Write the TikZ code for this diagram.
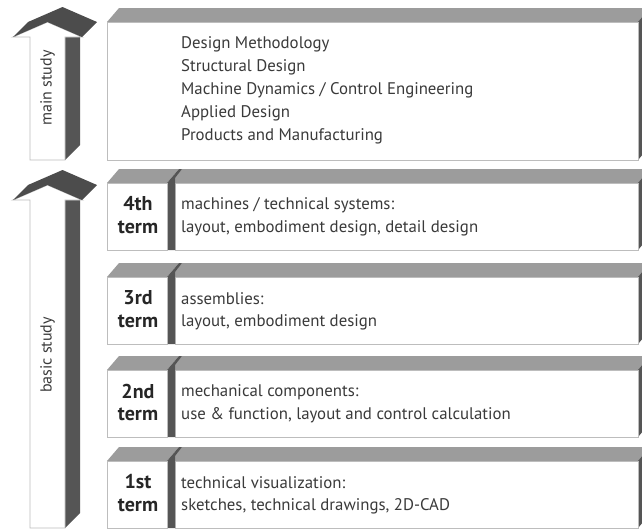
\documentclass[tikz,border=0pt]{standalone}
\usepackage{fontspec}
\setmainfont{PT Sans}
\definecolor{topgray}{HTML}{9C9C9C}
\definecolor{darkside}{HTML}{555555}
\definecolor{roofgray}{HTML}{4C4C4C}
\definecolor{edgegray}{HTML}{BDBDBD}
\definecolor{txtgray}{HTML}{3A3A3A}
\begin{document}
\begin{tikzpicture}[x=1pt,y=-1pt,
  topface/.style={fill=topgray,draw=none},
  sideface/.style={fill=darkside,draw=none},
  roof/.style={fill=roofgray,draw=none},
  frontface/.style={fill=white,draw=edgegray,line width=0.9pt},
  bodytext/.style={anchor=west,inner sep=0pt,text=txtgray,font=\fontsize{16.8}{16.8}\selectfont},
  termtext/.style={anchor=center,inner sep=0pt,text=black!85,font=\fontsize{20}{20}\selectfont\bfseries},
  studytext/.style={anchor=center,inner sep=0pt,text=txtgray,rotate=90,font=\fontsize{16}{16}\selectfont}]
\useasboundingbox (0,0) rectangle (642,528);
\clip (0,0) rectangle (642,528);
\fill[white] (0,0) rectangle (642,528);

% ---------- main study box ----------
\fill[topface] (107,22) -- (119,8) -- (652,8) -- (640,22) -- cycle;
\fill[sideface] (638,22) -- (650,8) -- (650,146) -- (638,160) -- cycle;
\draw[frontface] (107,22) rectangle (638,160);
\node[bodytext] (m1) at (181,44) {Design Methodology};
\node[bodytext] (m2) at (181,67) {Structural Design};
\node[bodytext] (m3) at (181,90) {Machine Dynamics / Control Engineering};
\node[bodytext] (m4) at (181,113) {Applied Design};
\node[bodytext] (m5) at (181,136) {Products and Manufacturing};

% ---------- term boxes ----------
\newcommand\termbox[6]{%
  \fill[topface] (170,#1) -- (182,#1-14) -- (652,#1-14) -- (640,#1) -- cycle;
  \fill[sideface] (638,#1) -- (650,#1-14) -- (650,#1+53) -- (638,#1+67) -- cycle;
  \draw[frontface] (175,#1) rectangle (638,#1+67);
  \fill[topface] (107,#1) -- (119,#1-14) -- (179,#1-14) -- (167,#1) -- cycle;
  \fill[sideface] (167,#1) -- (179,#1-14) -- (182,#1-14) -- (175,#1-5) -- (175,#1+67) -- (167,#1+67) -- cycle;
  \draw[frontface] (107,#1) rectangle (167,#1+67);
  \node[termtext] (#2a) at (138,#1+21) {#3};
  \node[termtext] (#2b) at (138,#1+44) {term};
  \node[bodytext] (#2c) at (181,#1+22) {#4};
  \node[bodytext] (#2d) at (181,#1+45) {#5};
}
\termbox{183}{t4}{4th}{machines / technical systems:}{layout, embodiment design, detail design}{}
\termbox{277}{t3}{3rd}{assemblies:}{layout, embodiment design}{}
\termbox{370}{t2}{2nd}{mechanical components:}{use \& function, layout and control calculation}{}
\termbox{461}{t1}{1st}{technical visualization:}{sketches, technical drawings, 2D-CAD}{}

% ---------- arrows ----------
\newcommand\studyarrow[3]{%
  \begin{scope}[yshift=-#1pt]
    \fill[sideface] (65,37) -- (80,22) -- (80,#2-15) -- (65,#2) -- cycle;
    \draw[frontface] (30,#2) -- (30,37) -- (13,37) -- (47.5,22) -- (82,37) -- (65,37) -- (65,#2) -- cycle;
    \fill[roof] (13,37) -- (28,22) -- (62.5,7) -- (97,22) -- (82,37) -- (47.5,22) -- cycle;
  \end{scope}}
\studyarrow{0}{160}{}
\studyarrow{163}{365}{}
\node[studytext] (ms) at (47.5,88) {main study};
\node[studytext] (bs) at (47.5,355) {basic study};
\end{tikzpicture}
\end{document}
